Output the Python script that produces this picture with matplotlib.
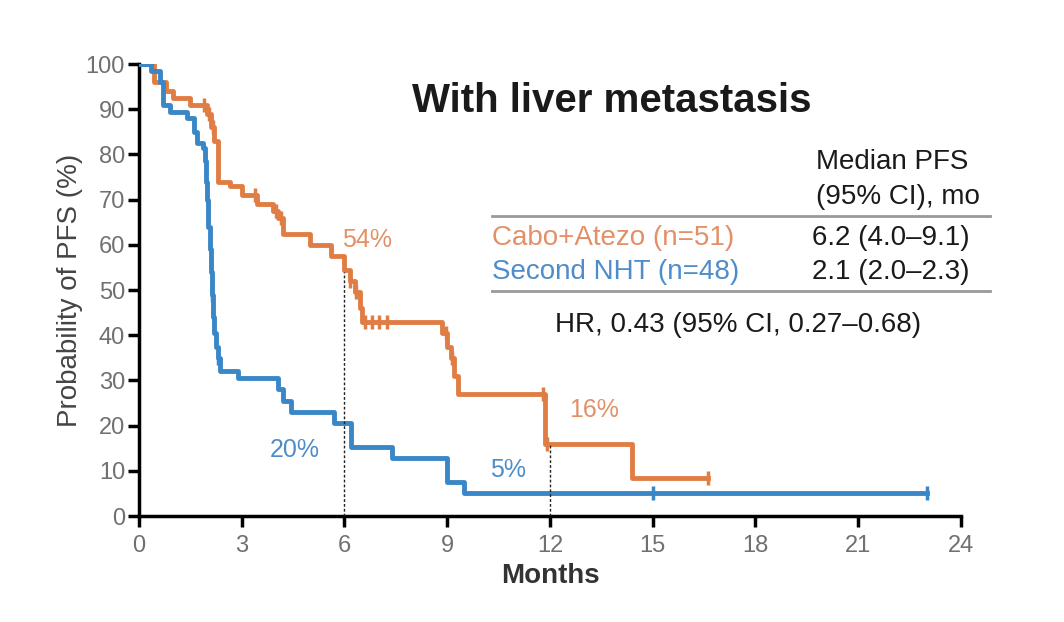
import matplotlib
matplotlib.use("Agg")
import matplotlib.pyplot as plt
from matplotlib.lines import Line2D

plt.rcParams['font.family'] = ['Liberation Sans', 'DejaVu Sans']

# ---- data ----
cabo_t = [0, 0.45, 0.8, 1.0, 1.5, 2.0, 2.1, 2.2, 2.3, 2.65, 3.0, 3.45, 3.9, 4.05, 4.2,
          5.0, 5.6, 6.0, 6.15, 6.3, 6.45, 6.5, 8.85, 9.0, 9.1, 9.2, 9.3, 11.85, 14.4, 16.6]
cabo_s = [100, 96, 94, 92.5, 91, 89, 86, 83, 74, 73, 71, 69, 67.5, 66, 62.5,
          60, 57.5, 54.5, 52, 49.5, 46, 43, 40.5, 37.5, 35, 31, 27, 16, 8.4, 8.4]
cabo_cens_t = [1.9, 2.05, 2.15, 3.4, 4.0, 4.15, 6.15, 6.35, 6.6, 6.8, 7.0, 7.25, 8.95, 9.15, 11.8, 11.9, 16.6]

nht_t = [0, 0.35, 0.6, 0.7, 0.9, 1.4, 1.6, 1.7, 1.87, 1.93, 1.97, 2.0, 2.03, 2.07, 2.1,
         2.13, 2.17, 2.2, 2.25, 2.3, 2.37, 2.9, 4.05, 4.2, 4.45, 5.7, 6.2, 7.4, 9.0, 9.5, 23.0]
nht_s = [100, 98.5, 96, 91, 89.5, 88, 85, 82.5, 81.5, 78.5, 74, 70, 64, 59, 54,
         49, 44, 40.5, 37.5, 35, 32, 30.5, 28, 25.5, 23, 20.5, 15.3, 12.8, 7.5, 5, 5]
nht_cens_t = [2.13, 2.3, 15.0, 23.0]

landmark_t = [6, 12]
landmark_cabo = [54, 16]
x_ticks = [0, 3, 6, 9, 12, 15, 18, 21, 24]
y_ticks = [0, 10, 20, 30, 40, 50, 60, 70, 80, 90, 100]

ORANGE = '#E07D45'
BLUE = '#3A87C8'
ORANGE_TXT = '#E39067'
BLUE_TXT = '#4E8DC9'


def surv_at(t, ts, ss):
    v = ss[0]
    for ti, si in zip(ts, ss):
        if ti <= t:
            v = si
    return v


fig = plt.figure(figsize=(10.64, 6.22), dpi=100)
ax = fig.add_axes([0.1306, 0.1704, 0.7726, 0.7266])

# landmark dotted lines
for t, v in zip(landmark_t, landmark_cabo):
    ax.plot([t, t], [0, v], color='#222222', lw=1.0, ls=(0, (2, 1.5)), zorder=4)

ax.step(cabo_t, cabo_s, where='post', color=ORANGE, lw=3.5, zorder=3)
ax.step(nht_t, nht_s, where='post', color=BLUE, lw=3.5, zorder=3)

ax.plot(cabo_cens_t, [surv_at(t, cabo_t, cabo_s) for t in cabo_cens_t], ls='none',
        marker='|', ms=10, mew=2.5, color=ORANGE, zorder=5)
ax.plot(nht_cens_t, [surv_at(t, nht_t, nht_s) for t in nht_cens_t], ls='none',
        marker='|', ms=10, mew=2.5, color=BLUE, zorder=5)

ax.set_xlim(0, 24)
ax.set_ylim(0, 100)
ax.set_xticks(x_ticks)
ax.set_yticks(y_ticks)
for s in ['top', 'right']:
    ax.spines[s].set_visible(False)
for s in ['left', 'bottom']:
    ax.spines[s].set_linewidth(2.5)
ax.tick_params(axis='both', length=8, width=2.5, color='black', labelcolor='#707070',
               labelsize=17)
ax.tick_params(axis='x', pad=6)
ax.tick_params(axis='y', pad=2)
ax.set_xlabel('Months', fontsize=20, fontweight='bold', color='#333333', labelpad=4)
ax.set_ylabel('Probability of PFS (%)', fontsize=20, color='#444444', labelpad=2)

# landmark labels
ax.text(6.66, 61, '54%', color=ORANGE_TXT, fontsize=18, ha='center', va='center')
ax.text(13.3, 23.5, '16%', color=ORANGE_TXT, fontsize=18, ha='center', va='center')
ax.text(4.55, 14.6, '20%', color=BLUE_TXT, fontsize=18, ha='center', va='center')
ax.text(10.77, 10.2, '5%', color=BLUE_TXT, fontsize=18, ha='center', va='center')

W, H = 1064, 622


def fx(px):
    return px / W


def fy(py):
    return 1 - py / H


fig.text(fx(612), fy(101), 'With liver metastasis', fontsize=29, fontweight='bold',
         color='#1a1a1a', ha='center', va='center')

TS = 20
fig.text(fx(892), fy(162), 'Median PFS', fontsize=TS, color='#1a1a1a', ha='center', va='center')
fig.text(fx(898), fy(197), '(95% CI), mo', fontsize=TS, color='#1a1a1a', ha='center', va='center')
fig.add_artist(Line2D([fx(492), fx(990)], [fy(216), fy(216)], color='#999999', lw=2))
fig.text(fx(492), fy(238), 'Cabo+Atezo (n=51)', fontsize=TS, color=ORANGE_TXT, ha='left', va='center')
fig.text(fx(891), fy(238), '6.2 (4.0\u20139.1)', fontsize=TS, color='#1a1a1a', ha='center', va='center')
fig.text(fx(492), fy(272), 'Second NHT (n=48)', fontsize=TS, color=BLUE_TXT, ha='left', va='center')
fig.text(fx(891), fy(272), '2.1 (2.0\u20132.3)', fontsize=TS, color='#1a1a1a', ha='center', va='center')
fig.add_artist(Line2D([fx(492), fx(990)], [fy(291), fy(291)], color='#999999', lw=2))
fig.text(fx(738), fy(325), 'HR, 0.43 (95% CI, 0.27\u20130.68)', fontsize=TS, color='#1a1a1a',
         ha='center', va='center')

fig.savefig('out.png', dpi=100)
